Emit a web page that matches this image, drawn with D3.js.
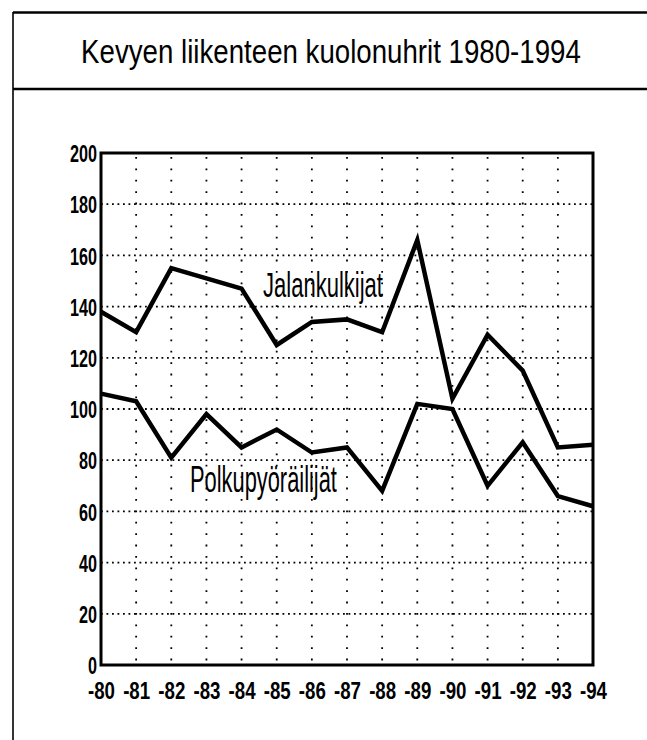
<!DOCTYPE html>
<html>
<head>
<meta charset="utf-8">
<script src="https://cdn.jsdelivr.net/npm/d3@7"></script>
<style>
  html, body { margin: 0; padding: 0; background: #fff; }
  svg { display: block; }
  text { font-family: "Liberation Sans Narrow", "Liberation Sans", Arial, sans-serif; fill: #000; }
</style>
</head>
<body>
<svg id="chart" width="647" height="740"></svg>
<script>
const title = "Kevyen liikenteen kuolonuhrit 1980-1994";
const years = ["-80","-81","-82","-83","-84","-85","-86","-87","-88","-89","-90","-91","-92","-93","-94"];
const jalankulkijat = [138,130,155,151,147,125,134,135,130,166,104,129,115,85,86];
const polkupyorailijat = [106,103,81,98,85,92,83,85,68,102,100,70,87,66,62];
const yTicks = [0,20,40,60,80,100,120,140,160,180,200];
const seriesLabels = ["Jalankulkijat","Polkupyöräilijät"];

const svg = d3.select("#chart");
const W = 647, H = 740;
const plot = {left: 101, right: 593, top: 153, bottom: 665};

// squeeze a text horizontally to a given width
function fitText(sel, x0, y0, width, anchor) {
  const n = sel.node();
  const w = n.getComputedTextLength();
  const k = width / w;
  sel.attr("x", 0).attr("y", 0).attr("text-anchor", anchor || "start")
    .attr("transform", `translate(${x0},${y0}) scale(${k},1)`);
}

// outer frame
svg.append("line").attr("x1",13).attr("x2",W).attr("y1",12.5).attr("y2",12.5)
  .attr("stroke","#000").attr("stroke-width",2.5);
svg.append("line").attr("x1",13).attr("x2",13).attr("y1",12).attr("y2",H)
  .attr("stroke","#000").attr("stroke-width",1.6);
svg.append("line").attr("x1",13).attr("x2",W).attr("y1",89).attr("y2",89)
  .attr("stroke","#000").attr("stroke-width",2.5);

// title
const t = svg.append("text").attr("font-size",33).text(title);
fitText(t, 331, 63, 500, "middle");

const x = d3.scalePoint().domain(years).range([plot.left, plot.right]);
const y = d3.scaleLinear().domain([0,200]).range([plot.bottom, plot.top]);

// grid
const grid = svg.append("g");
grid.selectAll("line.h").data(yTicks.filter(d => d>0 && d<200)).join("line")
  .attr("x1",plot.left).attr("x2",plot.right)
  .attr("y1",d=>y(d)).attr("y2",d=>y(d))
  .attr("stroke","#000").attr("stroke-width",1.8).attr("stroke-dasharray","1.8,3.7");
grid.selectAll("line.v").data(years.slice(1,-1)).join("line")
  .attr("x1",d=>x(d)).attr("x2",d=>x(d))
  .attr("y1",plot.top+4).attr("y2",plot.bottom)
  .attr("stroke","#000").attr("stroke-width",1.8).attr("stroke-dasharray","1.8,9.6");

// axes
const yAxis = svg.append("g").attr("transform",`translate(${plot.left},0)`)
  .call(d3.axisLeft(y).tickValues(yTicks).tickSize(0).tickPadding(4));
yAxis.select(".domain").remove();
yAxis.selectAll("text")
  .attr("font-family",null).attr("font-size",24).attr("font-weight","bold")
  .attr("dy","0.36em")
  .attr("textLength",d=>String(d).length*9).attr("lengthAdjust","spacingAndGlyphs");

const xAxis = svg.append("g").attr("transform",`translate(0,${plot.bottom})`)
  .call(d3.axisBottom(x).tickSize(0).tickPadding(17));
xAxis.select(".domain").remove();
xAxis.selectAll("text")
  .attr("font-family",null).attr("font-size",24).attr("font-weight","bold")
  .attr("textLength",27).attr("lengthAdjust","spacingAndGlyphs");
svg.selectAll(".tick text").style("fill","#000");

// plot frame
svg.append("rect").attr("x",plot.left).attr("y",plot.top)
  .attr("width",plot.right-plot.left).attr("height",plot.bottom-plot.top)
  .attr("fill","none").attr("stroke","#000").attr("stroke-width",3);

// lines
const line = d3.line().x((d,i)=>x(years[i])).y(d=>y(d));
[jalankulkijat, polkupyorailijat].forEach(s => {
  svg.append("path").datum(s).attr("d",line)
    .attr("fill","none").attr("stroke","#000").attr("stroke-width",4.5)
    .attr("stroke-linejoin","miter");
});

// series labels
const l1 = svg.append("text").attr("font-size",36).text(seriesLabels[0]);
fitText(l1, 263, 297, 120);
const l2 = svg.append("text").attr("font-size",36).text(seriesLabels[1]);
fitText(l2, 190, 492, 147);
</script>
</body>
</html>
